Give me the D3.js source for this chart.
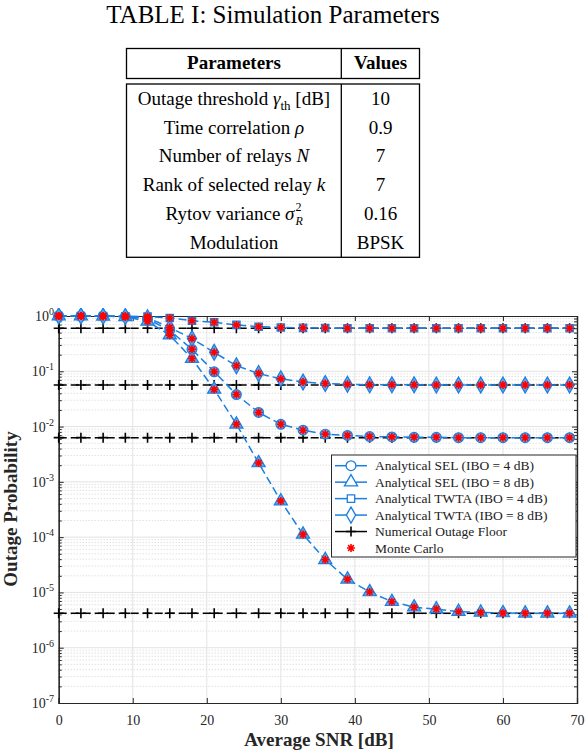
<!DOCTYPE html>
<html>
<head>
<meta charset="utf-8">
<script src="https://cdn.jsdelivr.net/npm/d3@7"></script>
<style>
body { margin: 0; background: #fff; }
text { font-family: "Liberation Serif", "DejaVu Serif", serif; }
</style>
</head>
<body>
<div class="chart"></div>
<script>
// table content
var paramNames = ["Outage threshold", "Time correlation", "Number of relays", "Rank of selected relay", "Rytov variance", "Modulation"];
var paramValues = ["10", "0.9", "7", "7", "0.16", "BPSK"];

// chart data
var snr = [0,3,6,9,12,15,18,21,24,27,30,33,36,39,42,45,48,51,54,57,60,63,66,69];
var selIbo4 = [1,1,0.99,0.98,0.88,0.55,0.25,0.098,0.038,0.018,0.011,0.0086,0.0073,0.0069,0.0066,0.0065,0.0064,0.0064,0.0063,0.0063,0.0063,0.0063,0.0063,0.0063];
var selIbo8 = [1,1,0.99,0.97,0.8,0.45,0.17,0.047,0.011,0.0022,4.5e-4,1.12e-4,3.9e-5,1.73e-5,1.02e-5,6.8e-6,5.4e-6,5.0e-6,4.5e-6,4.35e-6,4.25e-6,4.2e-6,4.2e-6,4.2e-6];
var twtaIbo4 = [1,1,1,0.99,0.98,0.92,0.82,0.77,0.69,0.64,0.62,0.61,0.605,0.6,0.6,0.6,0.6,0.6,0.6,0.6,0.6,0.6,0.6,0.6];
var twtaIbo8 = [1,1,0.99,0.98,0.93,0.62,0.39,0.22,0.126,0.091,0.073,0.064,0.06,0.058,0.057,0.057,0.057,0.0565,0.0565,0.0565,0.0565,0.0565,0.0565,0.0565];
var floors = [0.6, 0.0565, 0.0063, 4.2e-6];
var xTicks = [0,10,20,30,40,50,60,70];
var yTicks = [0,-1,-2,-3,-4,-5,-6,-7];
var legendLabels = ["Analytical SEL (IBO = 4 dB)", "Analytical SEL (IBO = 8 dB)", "Analytical TWTA (IBO = 4 dB)", "Analytical TWTA (IBO = 8 dB)", "Numerical Outage Floor", "Monte Carlo"];

var blue = '#1a7fe0', axisCol = '#262626';

var svg = d3.select('.chart')
	.append('svg')
	.attr('width', 586)
	.attr('height', 750);

// ---------- table ----------
svg.append('text')
	.attr('x', 273).attr('y', 23)
	.attr('text-anchor', 'middle')
	.style('font-size', '25px')
	.text('TABLE I: Simulation Parameters');

var tl = 126.5, tr = 419.5, tdiv = 341.3;
svg.append('rect').attr('x', tl).attr('y', 48.5).attr('width', tr - tl).attr('height', 30)
	.style('fill', 'none').style('stroke', '#000').style('stroke-width', 1.3);
svg.append('rect').attr('x', tl).attr('y', 84).attr('width', tr - tl).attr('height', 173.3)
	.style('fill', 'none').style('stroke', '#000').style('stroke-width', 1.3);
svg.append('line').attr('x1', tdiv).attr('x2', tdiv).attr('y1', 48.5).attr('y2', 78.5).style('stroke', '#000').style('stroke-width', 1.3);
svg.append('line').attr('x1', tdiv).attr('x2', tdiv).attr('y1', 84).attr('y2', 257.3).style('stroke', '#000').style('stroke-width', 1.3);

svg.append('text').attr('x', 234).attr('y', 69).attr('text-anchor', 'middle')
	.style('font-size', '19px').style('font-weight', 'bold').text('Parameters');
svg.append('text').attr('x', 380.5).attr('y', 69).attr('text-anchor', 'middle')
	.style('font-size', '19px').style('font-weight', 'bold').text('Values');

var rowY = d3.scaleLinear().domain([0, 5]).range([105, 248.7]);
var symbols = [
	[['γ', 'italic', 0], ['th', 'normal', 5], [' [dB]', 'normal', 0]],
	[['ρ', 'italic', 0]],
	[['N', 'italic', 0]],
	[['k', 'italic', 0]],
	[['σ', 'italic', 0]],
	[]
];
paramNames.forEach(function (name, i) {
	var t = svg.append('text')
		.attr('x', i === 4 ? 230 : 234).attr('y', rowY(i))
		.attr('text-anchor', 'middle')
		.style('font-size', '19px');
	t.append('tspan').text(name + (symbols[i].length ? ' ' : ''));
	var shift = 0;
	symbols[i].forEach(function (s) {
		var sp = t.append('tspan').style('font-style', s[1]).text(s[0]);
		if (s[2] !== 0) sp.style('font-size', '13px');
		sp.attr('dy', s[2] - shift);
		shift = s[2];
	});
	if (i === 4) {
		// stacked super/subscript of sigma, placed after the row text
		var bb = t.node().getBBox();
		var xe = bb.x + bb.width + 0.5;
		svg.append('text').attr('x', xe).attr('y', rowY(i) - 8.5)
			.style('font-size', '12px').text('2');
		svg.append('text').attr('x', xe).attr('y', rowY(i) + 5)
			.style('font-size', '12px').style('font-style', 'italic').text('R');
	}
	svg.append('text')
		.attr('x', 380.5).attr('y', rowY(i))
		.attr('text-anchor', 'middle')
		.style('font-size', '19px')
		.text(paramValues[i]);
});

// ---------- chart ----------
var x = d3.scaleLinear().domain([0, 70]).range([58.7, 577]);
var y = d3.scaleLog().domain([1e-7, 1]).range([703, 316]);

var g = svg.append('g');

// minor grid (dotted)
var minorVals = [];
yTicks.slice(1).forEach(function (e) {
	for (var m = 2; m <= 9; m++) minorVals.push(m * Math.pow(10, e));
});
g.selectAll('.ymin').data(minorVals).enter().append('line')
	.attr('x1', x(0)).attr('x2', x(70))
	.attr('y1', function (d) { return y(d); }).attr('y2', function (d) { return y(d); })
	.style('stroke', '#c8c8c8').style('stroke-width', 0.8).style('stroke-dasharray', '1,2');

// major grid
g.selectAll('.xgrid').data(xTicks.slice(1, -1)).enter().append('line')
	.attr('x1', function (d) { return x(d); }).attr('x2', function (d) { return x(d); })
	.attr('y1', y(1)).attr('y2', y(1e-7))
	.style('stroke', '#e3e3e3').style('stroke-width', 1);
g.selectAll('.ygrid').data(yTicks.slice(1, -1)).enter().append('line')
	.attr('x1', x(0)).attr('x2', x(70))
	.attr('y1', function (d) { return y(Math.pow(10, d)); }).attr('y2', function (d) { return y(Math.pow(10, d)); })
	.style('stroke', '#e3e3e3').style('stroke-width', 1);

// axes with inward ticks
var xb = d3.axisBottom(x).tickValues(xTicks).tickSize(-5).tickPadding(12).tickFormat(d3.format('d'));
var xt = d3.axisTop(x).tickValues(xTicks).tickSize(-5).tickFormat('');
var yl = d3.axisLeft(y).tickValues(minorVals).tickSize(-3).tickFormat('');
var yr = d3.axisRight(y).tickValues(minorVals).tickSize(-3).tickFormat('');
var ylMaj = d3.axisLeft(y).tickValues(yTicks.map(function (e) { return Math.pow(10, e); })).tickSize(-5).tickFormat('');
var yrMaj = d3.axisRight(y).tickValues(yTicks.map(function (e) { return Math.pow(10, e); })).tickSize(-5).tickFormat('');

[[xb, 'translate(0,' + y(1e-7) + ')'], [xt, 'translate(0,' + y(1) + ')'],
 [yl, 'translate(' + x(0) + ',0)'], [yr, 'translate(' + x(70) + ',0)'],
 [ylMaj, 'translate(' + x(0) + ',0)'], [yrMaj, 'translate(' + x(70) + ',0)']].forEach(function (a) {
	var ax = svg.append('g').attr('transform', a[1]).call(a[0]);
	ax.selectAll('path, line').style('stroke', axisCol).style('stroke-width', 1);
	ax.selectAll('text').style('font-size', '14px').style('fill', axisCol)
		.style('font-family', '"Liberation Serif", serif');
});
svg.selectAll('.domain').style('stroke-width', 1.2);

// y tick labels 10^e
svg.selectAll('.ylab').data(yTicks).enter().append('text')
	.attr('x', 54).attr('y', function (d) { return y(Math.pow(10, d)) + 5; })
	.attr('text-anchor', 'end')
	.style('font-size', '14px').style('fill', axisCol)
	.each(function (d) {
		var t = d3.select(this);
		t.append('tspan').text('10');
		t.append('tspan').attr('dy', -6).style('font-size', '10px').text(d === 0 ? '0' : '-' + (-d));
	});

svg.append('text')
	.attr('transform', 'translate(17,509) rotate(-90)')
	.attr('text-anchor', 'middle')
	.style('font-size', '19px').style('font-weight', 'bold').style('fill', axisCol)
	.text('Outage Probability');
svg.append('text')
	.attr('x', 319).attr('y', 746)
	.attr('text-anchor', 'middle')
	.style('font-size', '19px').style('font-weight', 'bold').style('fill', axisCol)
	.text('Average SNR [dB]');

// clip
svg.append('clipPath').attr('id', 'plotclip').append('rect')
	.attr('x', x(0) - 8).attr('y', y(1) - 8).attr('width', x(70) - x(0) + 16).attr('height', y(1e-7) - y(1) + 16);
var plot = svg.append('g').attr('clip-path', 'url(#plotclip)');

var line = d3.line().x(function (d) { return x(d[0]); }).y(function (d) { return y(d[1]); });

// floor lines
floors.forEach(function (f) {
	var pts = snr.map(function (s) { return [s, f]; });
	plot.append('path').datum(pts).attr('d', line)
		.style('fill', 'none').style('stroke', '#000').style('stroke-width', 1.5).style('stroke-dasharray', '8,4');
	plot.selectAll(null).data(pts).enter().append('path')
		.attr('transform', function (d) { return 'translate(' + x(d[0]) + ',' + y(d[1]) + ')'; })
		.attr('d', 'M-5,0H5M0,-5V5')
		.style('stroke', '#000').style('stroke-width', 1.6);
});

var shapes = {
	circle: d3.symbol().type(d3.symbolCircle).size(75),
	triangle: d3.symbol().type(d3.symbolTriangle).size(75),
	square: d3.symbol().type(d3.symbolSquare).size(55),
	diamond: d3.symbol().type(d3.symbolDiamond).size(75)
};
var series = [
	{ vals: selIbo4, shape: 'circle' },
	{ vals: selIbo8, shape: 'triangle' },
	{ vals: twtaIbo4, shape: 'square' },
	{ vals: twtaIbo8, shape: 'diamond' }
];
var star = 'M-4,0H4M0,-4V4M-2.9,-2.9L2.9,2.9M-2.9,2.9L2.9,-2.9';

series.forEach(function (s) {
	var pts = snr.map(function (v, i) { return [v, s.vals[i]]; });
	plot.append('path').datum(pts).attr('d', line)
		.style('fill', 'none').style('stroke', blue).style('stroke-width', 1.5).style('stroke-dasharray', '8,4');
	plot.selectAll(null).data(pts).enter().append('path')
		.attr('transform', function (d) { return 'translate(' + x(d[0]) + ',' + y(d[1]) + ')'; })
		.attr('d', shapes[s.shape]())
		.style('fill', '#5fa6ee').style('stroke', blue).style('stroke-width', 1.2);
});
series.forEach(function (s) {
	var pts = snr.map(function (v, i) { return [v, s.vals[i]]; });
	plot.selectAll(null).data(pts).enter().append('path')
		.attr('transform', function (d) { return 'translate(' + x(d[0]) + ',' + y(d[1]) + ')'; })
		.attr('d', star)
		.style('stroke', '#ff0000').style('stroke-width', 1.6);
});

// legend
var lg = svg.append('g');
lg.append('rect').attr('x', 331.5).attr('y', 455).attr('width', 244.5).attr('height', 102)
	.style('fill', '#fff').style('stroke', axisCol).style('stroke-width', 1);
var ly = d3.scaleLinear().domain([0, 5]).range([465.7, 548]);
var legShapes = ['circle', 'triangle', 'square', 'diamond'];
legendLabels.forEach(function (lab, i) {
	var yy = ly(i);
	if (i < 5) {
		lg.append('line').attr('x1', 335).attr('x2', 367).attr('y1', yy).attr('y2', yy)
			.style('stroke', i < 4 ? blue : '#000').style('stroke-width', 1.5);
	}
	if (i < 4) {
		lg.append('path').attr('transform', 'translate(351,' + yy + ')')
			.attr('d', shapes[legShapes[i]]())
			.style('fill', '#fff').style('stroke', blue).style('stroke-width', 1.3);
	} else if (i === 4) {
		lg.append('path').attr('transform', 'translate(351,' + yy + ')')
			.attr('d', 'M-5,0H5M0,-5V5').style('stroke', '#000').style('stroke-width', 1.6);
	} else {
		lg.append('path').attr('transform', 'translate(351,' + yy + ')')
			.attr('d', star).style('stroke', '#ff0000').style('stroke-width', 1.6);
	}
	lg.append('text').attr('x', 375).attr('y', yy + 4.5)
		.style('font-size', '13.5px').style('fill', '#222')
		.text(lab);
});
</script>
</body>
</html>
